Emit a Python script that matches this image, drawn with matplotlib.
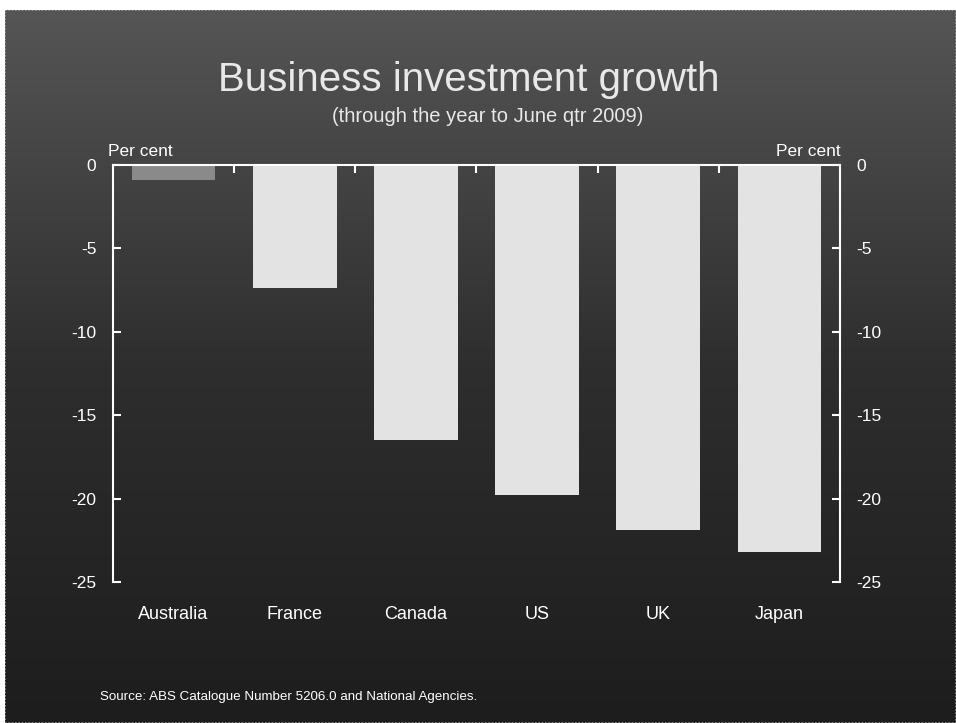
import numpy as np
import matplotlib.pyplot as plt
from matplotlib.patches import Rectangle

plt.rcParams['font.family'] = ['Liberation Sans', 'DejaVu Sans']

countries = ['Australia', 'France', 'Canada', 'US', 'UK', 'Japan']
growth = [-0.9, -7.4, -16.5, -19.8, -21.9, -23.2]
bar_colors = ['#8a8a8a', '#e3e3e3', '#e3e3e3', '#e3e3e3', '#e3e3e3', '#e3e3e3']
yticks = [0, -5, -10, -15, -20, -25]

fig = plt.figure(figsize=(9.56, 7.23), dpi=100, facecolor='white')

# dark vertical gradient behind everything
bg = fig.add_axes([5 / 956, 0, 1 - 5 / 956, 1 - 10 / 723])
grad = np.linspace(0, 1, 256).reshape(-1, 1)
bg.imshow(grad, aspect='auto', cmap=plt.matplotlib.colors.LinearSegmentedColormap.from_list(
    'bgc', ['#1d1d1d', '#2e2e2e', '#555555']), origin='lower', extent=[0, 1, 0, 1])
bg.add_patch(Rectangle((0, 0), 1, 1, transform=bg.transAxes, fill=False,
                       edgecolor='#9a9a9a', linestyle=(0, (1, 1)), linewidth=1.2))
bg.set_axis_off()

ax = fig.add_axes([113 / 956, 1 - 582 / 723, 727 / 956, 417 / 723])
ax.patch.set_alpha(0)
x = np.arange(len(countries))
ax.bar(x, growth, width=0.69, color=bar_colors, zorder=2)

ax.set_xlim(-0.5, len(countries) - 0.5)
ax.set_ylim(-25, 0)
ax.set_yticks(yticks)
ax.set_yticklabels([str(v) for v in yticks])
ax.set_xticks(x)
ax.set_xticklabels(countries)
ax.set_xticks(x[:-1] + 0.5, minor=True)

for side in ['left', 'right', 'top']:
    ax.spines[side].set_color('white')
    ax.spines[side].set_linewidth(1.5)
ax.spines['bottom'].set_visible(False)

ax.tick_params(axis='y', which='major', direction='in', left=True, right=True,
               labelleft=True, labelright=True, colors='white', labelsize=12.5,
               length=6, width=1.5, pad=12)
ax.tick_params(axis='x', which='major', bottom=False, top=False, colors='white',
               labelsize=13, pad=14)
ax.tick_params(axis='x', which='minor', bottom=False, top=True, direction='in',
               length=6, width=1.5, color='white')

fig.text(0.49, 1 - 80 / 723, 'Business investment growth', ha='center', va='center',
         color='#e8e8e8', fontsize=29)
fig.text(0.51, 1 - 117 / 723, '(through the year to June qtr 2009)', ha='center',
         va='center', color='#e8e8e8', fontsize=14.5)
fig.text(108 / 956, 1 - 152 / 723, 'Per cent', ha='left', va='center',
         color='white', fontsize=12.5)
fig.text(841 / 956, 1 - 152 / 723, 'Per cent', ha='right', va='center',
         color='white', fontsize=12.5)
fig.text(100 / 956, 1 - 697 / 723, 'Source: ABS Catalogue Number 5206.0 and National Agencies.',
         ha='left', va='center', color='white', fontsize=9.6)

fig.savefig('out.png', dpi=100, facecolor='white')
